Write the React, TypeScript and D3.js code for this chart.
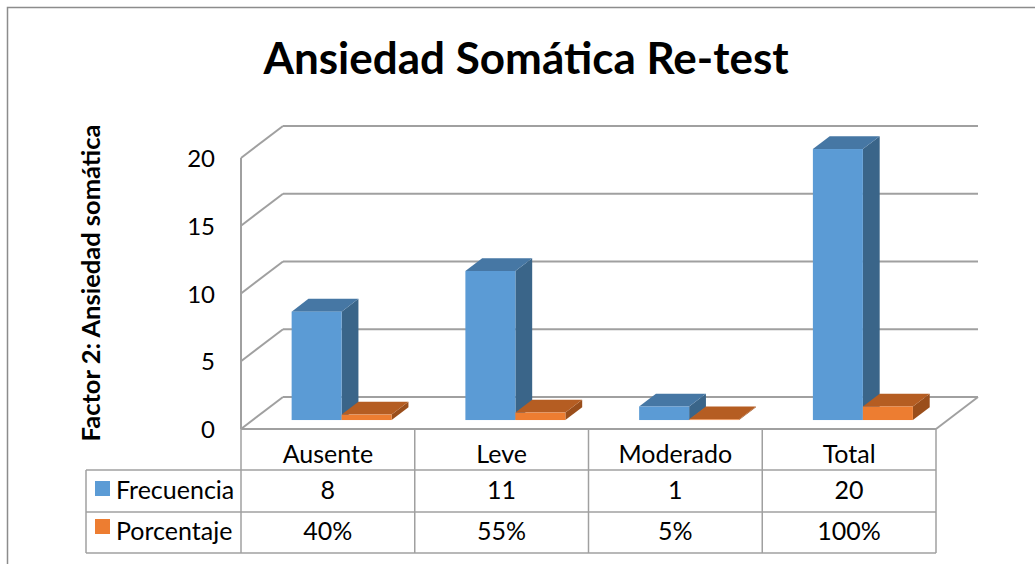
import React from "react";
import * as d3 from "d3";

const categories = ["Ausente", "Leve", "Moderado", "Total"];
const seriesNames = ["Frecuencia", "Porcentaje"];
const frecuencia = [8, 11, 1, 20];
const porcentaje = [0.4, 0.55, 0.05, 1];
const porcentajeLabels = ["40%", "55%", "5%", "100%"];
const yTicks = [0, 5, 10, 15, 20];
const title = "Ansiedad Somática Re-test";
const yTitle = "Factor 2: Ansiedad somática";

const W = 1035;
const H = 564;
const FONT = "Lato, 'Open Sans', sans-serif";

const colors = [
  { front: "#5B9BD5", top: "#4677A4", side: "#3A6589" },
  { front: "#ED7D31", top: "#B55D22", side: "#9A4E1B" },
];

export default function App() {
  const left = 241;
  const right = 936;
  const floorY = 429;
  const DX = 42;
  const DY = -32;
  const d0 = 0.28;
  const d1 = 0.68;

  const y = d3.scaleLinear().domain([0, 20]).range([floorY, 158]);
  const x = d3.scaleBand<string>().domain(categories).range([left, right]);
  const bw = 50;
  const series = [frecuencia, porcentaje];

  const grid = "#A0A0A0";

  const bars: React.ReactNode[] = [];
  categories.forEach((c, ci) => {
    series.forEach((vals, si) => {
      const v = vals[ci];
      const x0 = (x(c) as number) + (x.bandwidth() - 2 * bw) / 2 + 2 + si * bw + DX * d0;
      const x1 = x0 + bw;
      const yb = y(0) + DY * d0;
      const yt = y(v) + DY * d0;
      const ox = DX * (d1 - d0);
      const oy = DY * (d1 - d0);
      const col = colors[si];
      bars.push(
        <g key={`${c}-${si}`}>
          <polygon
            points={`${x1},${yb} ${x1 + ox},${yb + oy} ${x1 + ox},${yt + oy} ${x1},${yt}`}
            fill={col.side}
          />
          <polygon
            points={`${x0},${yt} ${x1},${yt} ${x1 + ox},${yt + oy} ${x0 + ox},${yt + oy}`}
            fill={col.top}
          />
          <rect x={x0} y={yt} width={bw} height={Math.max(yb - yt, 0)} fill={col.front} />
        </g>
      );
    });
  });

  const rowTop = [429, 470, 512, 553];
  const legendLeft = 86;

  return (
    <svg
      width={W}
      height={H}
      style={{ position: "absolute", left: 0, top: 0, background: "#fff" }}
      fontFamily={FONT}
    >
      <rect x={0} y={0} width={W} height={H} fill="#fff" />
      <rect x={7.5} y={7.5} width={1100} height={700} fill="none" stroke="#8C8C8C" strokeWidth={1.5} />

      <text x={526} y={74} textAnchor="middle" fontSize={44} fontWeight="bold" fill="#000">
        {title}
      </text>

      <text
        transform={`translate(100,${283}) rotate(-90)`}
        textAnchor="middle"
        fontSize={25.5}
        fontWeight="bold"
        fill="#000"
      >
        {yTitle}
      </text>

      {/* back wall gridlines and left wall */}
      {yTicks.map((t) => (
        <g key={t}>
          <line x1={left + DX} x2={right + DX} y1={y(t) + DY} y2={y(t) + DY} stroke={grid} strokeWidth={2} />
          <line x1={left} x2={left + DX} y1={y(t)} y2={y(t) + DY} stroke={grid} strokeWidth={2} />
          <text x={215} y={y(t) + 9} textAnchor="end" fontSize={24} fill="#000">
            {t}
          </text>
        </g>
      ))}
      {/* floor */}
      <line x1={right} x2={right + DX} y1={floorY} y2={floorY + DY} stroke={grid} strokeWidth={2} />
      <line x1={left} x2={left} y1={y(20)} y2={floorY} stroke={grid} strokeWidth={2} />

      {bars}

      {/* data table */}
      <g stroke={grid} strokeWidth={1.5}>
        <line x1={left} x2={right} y1={rowTop[0]} y2={rowTop[0]} strokeWidth={2} />
        {rowTop.slice(1).map((r) => (
          <line key={r} x1={legendLeft} x2={right} y1={r} y2={r} />
        ))}
        <line x1={legendLeft} x2={legendLeft} y1={rowTop[1]} y2={rowTop[3]} />
        {categories.map((c) => (
          <line key={c} x1={x(c) as number} x2={x(c) as number} y1={rowTop[0]} y2={rowTop[3]} />
        ))}
        <line x1={right} x2={right} y1={rowTop[0]} y2={rowTop[3]} />
      </g>

      {categories.map((c, i) => (
        <g key={c}>
          <text x={(x(c) as number) + x.bandwidth() / 2} y={463} textAnchor="middle" fontSize={25} fill="#000">
            {c}
          </text>
          <text x={(x(c) as number) + x.bandwidth() / 2} y={499} textAnchor="middle" fontSize={25} fill="#000">
            {frecuencia[i]}
          </text>
          <text x={(x(c) as number) + x.bandwidth() / 2} y={540} textAnchor="middle" fontSize={25} fill="#000">
            {porcentajeLabels[i]}
          </text>
        </g>
      ))}

      {seriesNames.map((s, i) => (
        <g key={s}>
          <rect x={95} y={[481, 519][i]} width={15} height={15} fill={colors[i].front} />
          <text x={116} y={[499, 540][i]} fontSize={25} fill="#000">
            {s}
          </text>
        </g>
      ))}
    </svg>
  );
}
